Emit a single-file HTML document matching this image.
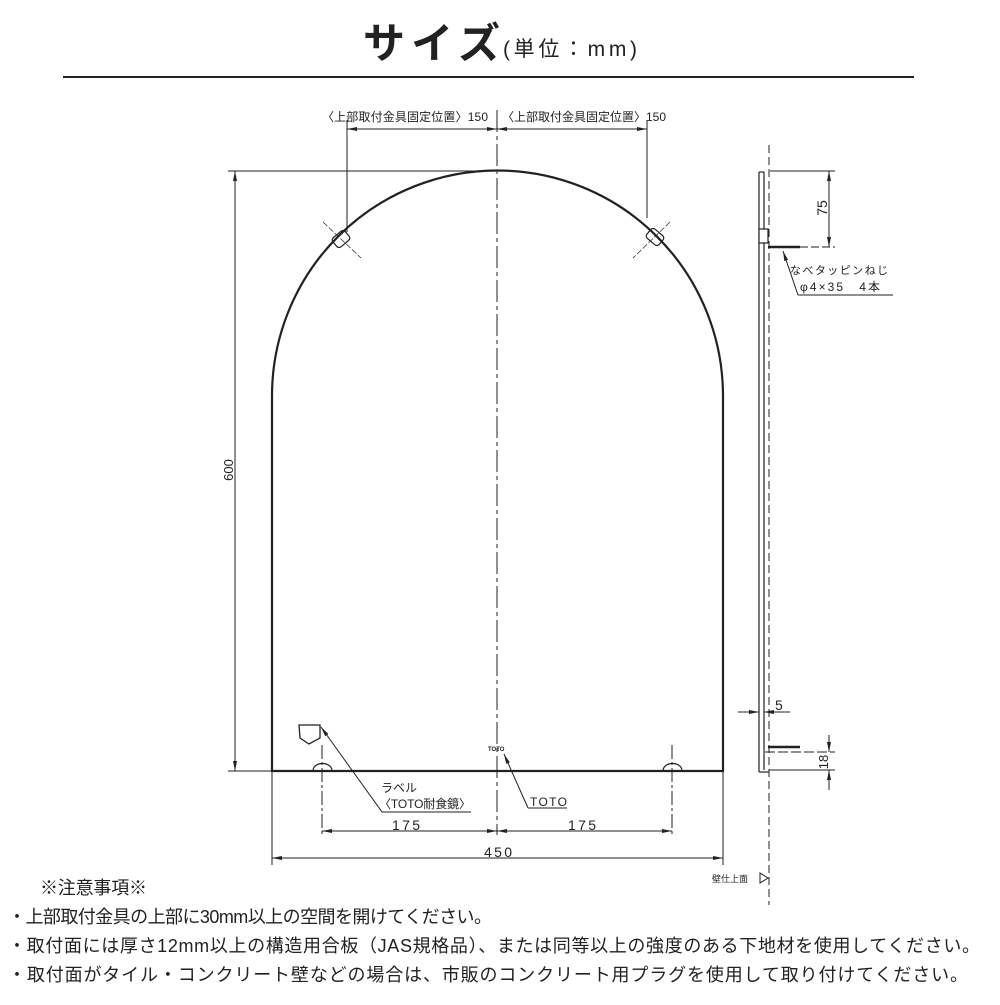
<!DOCTYPE html>
<html><head><meta charset="utf-8"><style>
body{margin:0;background:#fff;width:1000px;height:1000px;overflow:hidden;font-family:"Liberation Sans","Noto Sans CJK JP",sans-serif}
svg text{font-family:"Liberation Sans","Noto Sans CJK JP",sans-serif}
</style></head><body>
<svg width="1000" height="1000" viewBox="0 0 1000 1000" xmlns="http://www.w3.org/2000/svg">
<defs>
<marker id="a" viewBox="0 0 10 6" refX="10" refY="3" markerWidth="10" markerHeight="6" orient="auto-start-reverse" markerUnits="userSpaceOnUse"><path d="M0,1 L10,3 L0,5z" fill="#222"/></marker>
</defs>
<text x="363" y="58" font-size="42" font-weight="bold" fill="#222" textLength="137">サイズ</text>
<text x="503" y="56" font-size="21" fill="#222" textLength="134">(単位：mm)</text>
<line x1="63" y1="77" x2="914" y2="77" stroke="#222" stroke-width="2"/>
<g stroke="#222" fill="none">
<path d="M272,771 L272,396 A225.5,225.5 0 0 1 723,396 L723,771 Z" stroke-width="2.2"/>
<line x1="228" y1="171" x2="497" y2="171" stroke-width="1"/>
<line x1="228" y1="771" x2="272" y2="771" stroke-width="1"/>
<line x1="235" y1="171" x2="235" y2="771" stroke-width="1" marker-start="url(#a)" marker-end="url(#a)"/>
<line x1="497" y1="110" x2="497" y2="835" stroke-width="1" stroke-dasharray="22,4,4,4"/>
<line x1="347" y1="120" x2="347" y2="232" stroke-width="1"/>
<line x1="647" y1="120" x2="647" y2="218" stroke-width="1"/>
<line x1="347" y1="129" x2="497" y2="129" stroke-width="1" marker-start="url(#a)" marker-end="url(#a)"/>
<line x1="497" y1="129" x2="647" y2="129" stroke-width="1" marker-start="url(#a)" marker-end="url(#a)"/>
<rect x="333" y="233" width="16" height="12" rx="3" transform="rotate(-40 341 239)" stroke-width="1.2"/>
<rect x="647" y="231" width="16" height="12" rx="3" transform="rotate(40 655 237)" stroke-width="1.2"/>
<line x1="323" y1="222" x2="361" y2="258" stroke-width="0.7" stroke-dasharray="6,2"/>
<line x1="670" y1="222" x2="633" y2="258" stroke-width="0.7" stroke-dasharray="6,2"/>
<path d="M313,771 C313,761 332,761 332,771" stroke-width="1.2"/>
<path d="M663,771 C663,761 682,761 682,771" stroke-width="1.2"/>
<line x1="322" y1="745" x2="322" y2="835" stroke-width="1" stroke-dasharray="14,3,3,3"/>
<line x1="672" y1="745" x2="672" y2="835" stroke-width="1" stroke-dasharray="14,3,3,3"/>
<line x1="322" y1="831" x2="497" y2="831" stroke-width="1" marker-start="url(#a)" marker-end="url(#a)"/>
<line x1="497" y1="831" x2="672" y2="831" stroke-width="1" marker-start="url(#a)" marker-end="url(#a)"/>
<line x1="272" y1="771" x2="272" y2="865" stroke-width="1"/>
<line x1="723" y1="771" x2="723" y2="865" stroke-width="1"/>
<line x1="272" y1="858" x2="723" y2="858" stroke-width="1" marker-start="url(#a)" marker-end="url(#a)"/>
<path d="M299,725 L320,725 L320,738 L309,744 L300,738 Z" stroke-width="1.3"/>
<line x1="321" y1="727" x2="382" y2="812" stroke-width="1" marker-start="url(#a)"/>
<line x1="382" y1="812" x2="471" y2="812" stroke-width="1"/>
<line x1="504" y1="754" x2="528" y2="808" stroke-width="1" marker-start="url(#a)"/>
<line x1="528" y1="808" x2="567" y2="808" stroke-width="1"/>
<line x1="769" y1="145" x2="769" y2="905" stroke-width="1" stroke-dasharray="8,4"/>
<line x1="759" y1="172" x2="759" y2="772" stroke-width="1.2"/>
<line x1="764" y1="172" x2="764" y2="770" stroke-width="1.2"/>
<line x1="759" y1="172" x2="764" y2="172" stroke-width="1.2"/>
<line x1="759" y1="772" x2="769" y2="772" stroke-width="1.2"/>
<rect x="759" y="229" width="9" height="14" stroke-width="1.2" fill="#fff"/>
<line x1="768" y1="247" x2="800" y2="247" stroke-width="2.5"/>
<line x1="768" y1="747" x2="800" y2="747" stroke-width="2.5"/>
<line x1="770" y1="171" x2="835" y2="171" stroke-width="1"/>
<line x1="800" y1="247" x2="835" y2="247" stroke-width="1" stroke-dasharray="8,3"/>
<line x1="829" y1="171" x2="829" y2="247" stroke-width="1" marker-start="url(#a)" marker-end="url(#a)"/>
<line x1="783" y1="251" x2="798" y2="295" stroke-width="1" marker-start="url(#a)"/>
<line x1="798" y1="295" x2="893" y2="295" stroke-width="1"/>
<line x1="738" y1="712" x2="759" y2="712" stroke-width="1" marker-end="url(#a)"/>
<line x1="790" y1="712" x2="764" y2="712" stroke-width="1" marker-end="url(#a)"/>
<line x1="765" y1="752" x2="835" y2="752" stroke-width="1" stroke-dasharray="10,3"/>
<line x1="769" y1="770" x2="835" y2="770" stroke-width="1"/>
<line x1="829" y1="735" x2="829" y2="752" stroke-width="1" marker-end="url(#a)"/>
<line x1="829" y1="790" x2="829" y2="770" stroke-width="1" marker-end="url(#a)"/>
<path d="M760,873 L760,883 L768,878 Z" stroke-width="1"/>
</g>
<g fill="#222" font-size="13">
<text x="322" y="121" font-size="12" textLength="166">〈上部取付金具固定位置〉150</text>
<text x="502" y="121" font-size="12" textLength="164">〈上部取付金具固定位置〉150</text>
<text transform="translate(233,470) rotate(-90)" text-anchor="middle" font-size="13">600</text>
<text x="392" y="830" font-size="14" textLength="28">175</text>
<text x="568" y="830" font-size="14" textLength="28">175</text>
<text x="484" y="857" font-size="14" textLength="28">450</text>
<text x="381" y="792" font-size="12">ラベル</text>
<text x="379" y="808" font-size="12" textLength="92">〈TOTO耐食鏡〉</text>
<text x="530" y="806" font-size="12" textLength="37">TOTO</text>
<text x="488" y="751" font-size="6" font-weight="bold">TOTO</text>
<text transform="translate(827,208) rotate(-90)" text-anchor="middle" font-size="14">75</text>
<text x="790" y="274" font-size="11" textLength="98">なべタッピンねじ</text>
<text x="800" y="291" font-size="12" textLength="80">φ4×35　4本</text>
<text x="775" y="710" font-size="14">5</text>
<text transform="translate(828,762) rotate(-90)" text-anchor="middle" font-size="13">18</text>
<text x="712" y="882" font-size="9">壁仕上面</text>
<g font-size="18">
<text x="40" y="894" textLength="107">※注意事項※</text>
<text x="8" y="923" textLength="484">・上部取付金具の上部に30mm以上の空間を開けてください。</text>
<text x="8" y="952" textLength="972">・取付面には厚さ12mm以上の構造用合板（JAS規格品）、または同等以上の強度のある下地材を使用してください。</text>
<text x="8" y="981" textLength="960">・取付面がタイル・コンクリート壁などの場合は、市販のコンクリート用プラグを使用して取り付けてください。</text>
</g>
</g>
</svg>
</body></html>
